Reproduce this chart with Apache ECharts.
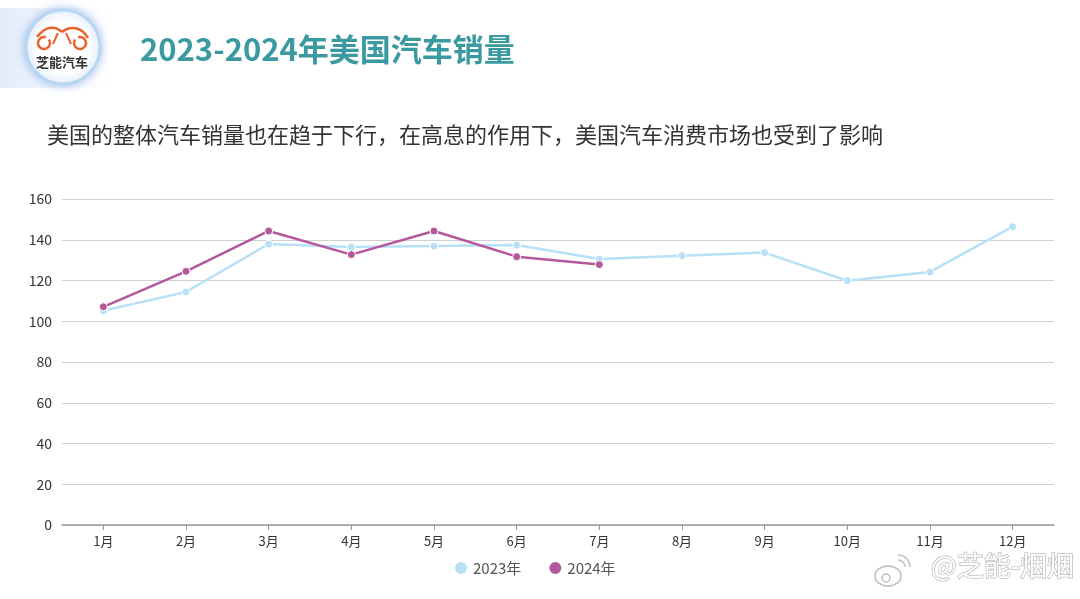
<!DOCTYPE html>
<html>
<head>
<meta charset="utf-8">
<style>
  html, body { margin: 0; padding: 0; background: #fff; }
  #chart { width: 1080px; height: 599px; }
</style>
<script src="https://cdn.jsdelivr.net/npm/echarts@6/dist/echarts.min.js"></script>
</head>
<body>
<div id="chart"></div>
<script>
// 数据
const months = ['1月', '2月', '3月', '4月', '5月', '6月', '7月', '8月', '9月', '10月', '11月', '12月'];
const sales2023 = [105.2, 114.4, 137.9, 136.4, 136.9, 137.4, 130.5, 132.2, 133.7, 119.9, 124.2, 146.4];
const sales2024 = [107.1, 124.5, 144.3, 132.7, 144.3, 131.7, 127.8];

const font = '"Noto Sans CJK SC", "Noto Sans", sans-serif';
const logoOrange = '#e8632b';
const markGrey = '#bdbdbd';

let chart = echarts.init(document.getElementById('chart'));
let option = {
  backgroundColor: '#fff',
  textStyle: { fontFamily: font },
  title: [
    {
      text: '2023-2024年美国汽车销量',
      left: 135,
      top: 29,
      textStyle: { color: '#3a9aa0', fontSize: 31, fontWeight: 'bold', fontFamily: font }
    },
    {
      text: '美国的整体汽车销量也在趋于下行，在高息的作用下，美国汽车消费市场也受到了影响',
      left: 42,
      top: 119,
      textStyle: { color: '#333', fontSize: 22, fontWeight: 'normal', fontFamily: font }
    }
  ],
  grid: {
    left: 62,
    right: 26,
    top: 199,
    bottom: 74
  },
  legend: {
    bottom: 18,
    left: 448,
    icon: 'circle',
    itemWidth: 14,
    itemHeight: 14,
    itemGap: 26,
    textStyle: { color: '#555', fontSize: 15, fontFamily: font },
    data: ['2023年', '2024年']
  },
  xAxis: {
    type: 'category',
    data: months,
    axisLine: { lineStyle: { color: '#999', width: 1.5 } },
    axisTick: { show: true, alignWithLabel: true, lineStyle: { color: '#999' } },
    axisLabel: { color: '#333', fontSize: 13, margin: 10 }
  },
  yAxis: {
    type: 'value',
    min: 0,
    max: 160,
    interval: 20,
    axisLine: { show: false },
    axisTick: { show: false },
    axisLabel: { color: '#333', fontSize: 14, margin: 10 },
    splitLine: { lineStyle: { color: '#d0d0d0', width: 1 } }
  },
  series: [
    {
      name: '2023年',
      type: 'line',
      data: sales2023,
      symbol: 'circle',
      symbolSize: 8,
      itemStyle: { color: '#b8e0f7', borderColor: '#fff', borderWidth: 1 },
      lineStyle: { color: '#b8e0f7', width: 2.5 }
    },
    {
      name: '2024年',
      type: 'line',
      data: sales2024,
      symbol: 'circle',
      symbolSize: 8,
      itemStyle: { color: '#b5579b', borderColor: '#fff', borderWidth: 1 },
      lineStyle: { color: '#b5579b', width: 2.5 }
    }
  ],
  graphic: [
    // 左上角的浅蓝色底条
    {
      type: 'rect',
      left: 0,
      top: 8,
      shape: { width: 110, height: 80 },
      style: {
        fill: new echarts.graphic.LinearGradient(0, 0, 1, 0, [
          { offset: 0, color: 'rgba(225,236,250,1)' },
          { offset: 1, color: 'rgba(225,236,250,0)' }
        ])
      },
      z: 1
    },
    // logo 圆
    {
      type: 'circle',
      shape: { cx: 63, cy: 47, r: 37 },
      style: {
        fill: '#fff',
        stroke: '#b7d6f2',
        lineWidth: 3,
        shadowBlur: 10,
        shadowColor: 'rgba(120,160,230,0.6)'
      },
      z: 2
    },
    // 车轮（开口朝向车身中间）
    {
      type: 'arc',
      shape: { cx: 44, cy: 43, r: 6, startAngle: -Math.PI * 0.2, endAngle: Math.PI * 1.6, clockwise: true },
      style: { fill: 'none', stroke: logoOrange, lineWidth: 2.5 },
      z: 3
    },
    {
      type: 'arc',
      shape: { cx: 80, cy: 43, r: 6, startAngle: -Math.PI * 0.6, endAngle: Math.PI * 1.2, clockwise: true },
      style: { fill: 'none', stroke: logoOrange, lineWidth: 2.5 },
      z: 3
    },
    // 车身
    {
      type: 'bezierCurve',
      shape: { x1: 37, y1: 37, cpx1: 46, cpy1: 25, x2: 62, y2: 32, cpx2: 56, cpy2: 26 },
      style: { fill: 'none', stroke: logoOrange, lineWidth: 2.5 },
      z: 3
    },
    {
      type: 'bezierCurve',
      shape: { x1: 62, y1: 32, cpx1: 70, cpy1: 25, x2: 88, y2: 38, cpx2: 82, cpy2: 27 },
      style: { fill: 'none', stroke: logoOrange, lineWidth: 2.5 },
      z: 3
    },
    {
      type: 'line',
      shape: { x1: 53, y1: 44, x2: 58, y2: 33 },
      style: { stroke: logoOrange, lineWidth: 2 },
      z: 3
    },
    {
      type: 'line',
      shape: { x1: 71, y1: 44, x2: 66, y2: 33 },
      style: { stroke: logoOrange, lineWidth: 2 },
      z: 3
    },
    {
      type: 'text',
      style: {
        x: 62, y: 62,
        text: '芝能汽车',
        fill: '#333',
        font: 'bold 13px ' + font,
        align: 'center',
        verticalAlign: 'middle'
      },
      z: 3
    },
    // 水印（微博图标 + 文字）
    {
      type: 'ellipse',
      shape: { cx: 888, cy: 576, rx: 13, ry: 10 },
      style: { fill: 'rgba(255,255,255,0.6)', stroke: markGrey, lineWidth: 1.5 },
      z: 10
    },
    {
      type: 'circle',
      shape: { cx: 886, cy: 578, r: 4 },
      style: { fill: 'none', stroke: markGrey, lineWidth: 1.5 },
      z: 10
    },
    {
      type: 'arc',
      shape: { cx: 898, cy: 567, r: 7, startAngle: -Math.PI * 0.5, endAngle: 0, clockwise: true },
      style: { fill: 'none', stroke: markGrey, lineWidth: 1.5 },
      z: 10
    },
    {
      type: 'arc',
      shape: { cx: 898, cy: 567, r: 12, startAngle: -Math.PI * 0.5, endAngle: 0, clockwise: true },
      style: { fill: 'none', stroke: markGrey, lineWidth: 1.5 },
      z: 10
    },
    {
      type: 'text',
      style: {
        x: 1074, y: 566,
        text: '@芝能-烟烟',
        fill: '#fff',
        stroke: markGrey,
        lineWidth: 1.5,
        font: '27px ' + font,
        align: 'right',
        verticalAlign: 'middle'
      },
      z: 10
    }
  ]
};
chart.setOption(option);
</script>
</body>
</html>
